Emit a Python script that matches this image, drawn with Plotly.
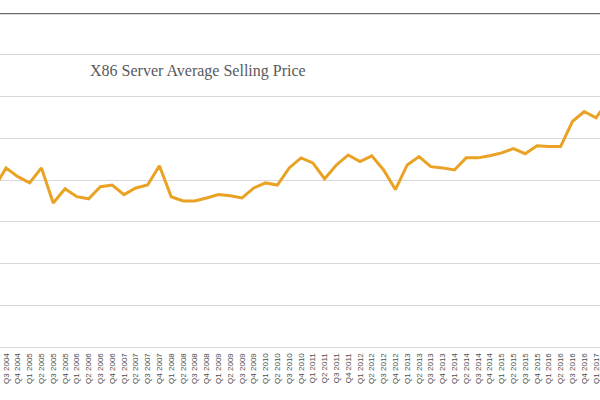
import plotly.graph_objects as go

quarters = []
for yr in range(2004, 2018):
    for q in range(1, 5):
        quarters.append(f"Q{q} {yr}")
# visible window: Q2 2004 .. Q1 2017 (first and last partly off-view)
categories = quarters[1:54]

asp_values = [
    3810, 4290, 4080, 3930, 4290, 3450, 3790, 3600, 3550, 3840,
    3880, 3650, 3810, 3880, 4340, 3600, 3500, 3500, 3570, 3650,
    3620, 3570, 3810, 3930, 3880, 4290, 4530, 4410, 4030, 4360,
    4600, 4440, 4580, 4240, 3770, 4360, 4560, 4320, 4290, 4240,
    4530, 4530, 4580, 4650, 4750, 4630, 4820, 4800, 4800, 5400,
    5640, 5490, 5880,
]
categories = categories[:len(asp_values)]

title_text = "X86 Server Average Selling Price"

fig = go.Figure()
fig.add_trace(go.Scatter(
    x=categories, y=asp_values, mode="lines",
    line=dict(color="#E9A223", width=3),
    showlegend=False, hoverinfo="skip",
))

fig.update_layout(
    width=600, height=400,
    margin=dict(l=0, r=0, t=13, b=53, autoexpand=False),
    paper_bgcolor="white", plot_bgcolor="white",
    xaxis=dict(
        type="category", range=[0.49, 51.34], automargin=False,
        tickangle=-90, tickfont=dict(size=8, color="#4d4d4d", family="Liberation Sans"),
        showgrid=False, showline=True, linecolor="#d9d9d9", linewidth=1,
        ticks="", ticklabelstandoff=2,
    ),
    yaxis=dict(
        range=[0, 8000], dtick=1000, showticklabels=False, automargin=False,
        showgrid=True, gridcolor="#d9d9d9", gridwidth=1,
        zeroline=False, showline=False,
    ),
    shapes=[dict(type="line", xref="paper", yref="y", x0=0, x1=1, y0=8000, y1=8000,
                 line=dict(color="#6b6b6b", width=2.5))],
    annotations=[dict(
        text=title_text, xref="paper", yref="paper", x=198/600, y=(347-71)/334,
        xanchor="center", yanchor="middle", showarrow=False,
        font=dict(family="Liberation Serif", size=16, color="#595959"),
    )],
)

fig.write_html("out.html", config={"displayModeBar": False},
               post_script="document.body.style.margin='0';")
